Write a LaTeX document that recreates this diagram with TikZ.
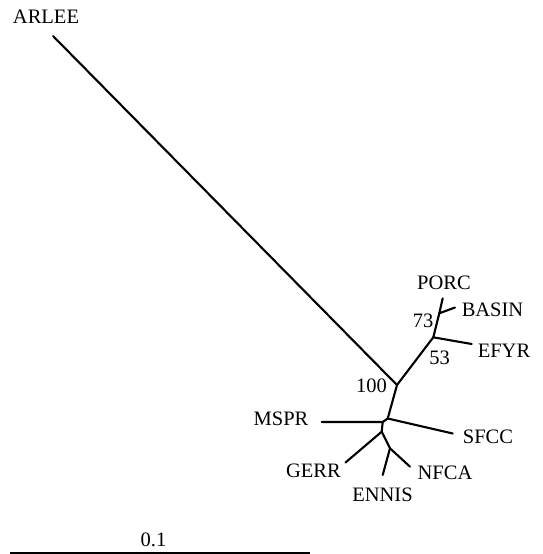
\documentclass[tikz,border=0pt]{standalone}
\usepackage{fontspec}
\setmainfont{Liberation Serif}
\begin{document}
\begin{tikzpicture}[x=1pt,y=-1pt,
  branch/.style={line width=2.1pt,line cap=round},
  lbl/.style={inner sep=0pt,font=\fontsize{20.5}{24}\selectfont}]
\useasboundingbox (0,0) rectangle (542,554);
% internal nodes of the tree
\coordinate (n100) at (397,385);
\coordinate (n53) at (433.3,337.3);
\coordinate (n73) at (439.3,313.3);
\coordinate (na) at (387.7,418.5);
\coordinate (nb) at (382.7,422);
\coordinate (nc) at (381.7,431.7);
\coordinate (nd) at (390,448.3);
% leaf tips
\coordinate (tARLEE) at (53,36);
\coordinate (tPORC) at (442.7,298.3);
\coordinate (tBASIN) at (455,307.5);
\coordinate (tEFYR) at (471.7,344);
\coordinate (tSFCC) at (452.7,433.5);
\coordinate (tMSPR) at (321.7,422);
\coordinate (tGERR) at (345.5,462.5);
\coordinate (tENNIS) at (382.7,475);
\coordinate (tNFCA) at (410,466.7);
% branches
\draw[branch] (tARLEE) -- (n100);
\draw[branch] (n100) -- (n53) -- (n73) -- (tPORC);
\draw[branch] (n73) -- (tBASIN);
\draw[branch] (n53) -- (tEFYR);
\draw[branch] (n100) -- (na) -- (tSFCC);
\draw[branch] (na) -- (nb) -- (tMSPR);
\draw[branch] (nb) -- (nc) -- (tGERR);
\draw[branch] (nc) -- (nd) -- (tENNIS);
\draw[branch] (nd) -- (tNFCA);
% taxon labels
\node[lbl] (ARLEE) at (46,17) {ARLEE};
\node[lbl] (PORC) at (444,282.5) {PORC};
\node[lbl] (BASIN) at (492.5,309.5) {BASIN};
\node[lbl] (EFYR) at (504,351) {EFYR};
\node[lbl] (SFCC) at (488,436.5) {SFCC};
\node[lbl] (MSPR) at (281,419) {MSPR};
\node[lbl] (GERR) at (313.5,470.5) {GERR};
\node[lbl] (ENNIS) at (382.5,494.5) {ENNIS};
\node[lbl] (NFCA) at (445,473) {NFCA};
% bootstrap support values
\node[lbl] (b73) at (423,320.5) {73};
\node[lbl] (b53) at (439.5,357.5) {53};
\node[lbl] (b100) at (371.5,385.5) {100};
% scale bar
\node[lbl] (scale) at (153.5,539.5) {0.1};
\coordinate (s0) at (10,552.8);
\coordinate (s1) at (310,552.8);
\draw[line width=1.4pt] (s0) -- (s1);
\end{tikzpicture}
\end{document}
